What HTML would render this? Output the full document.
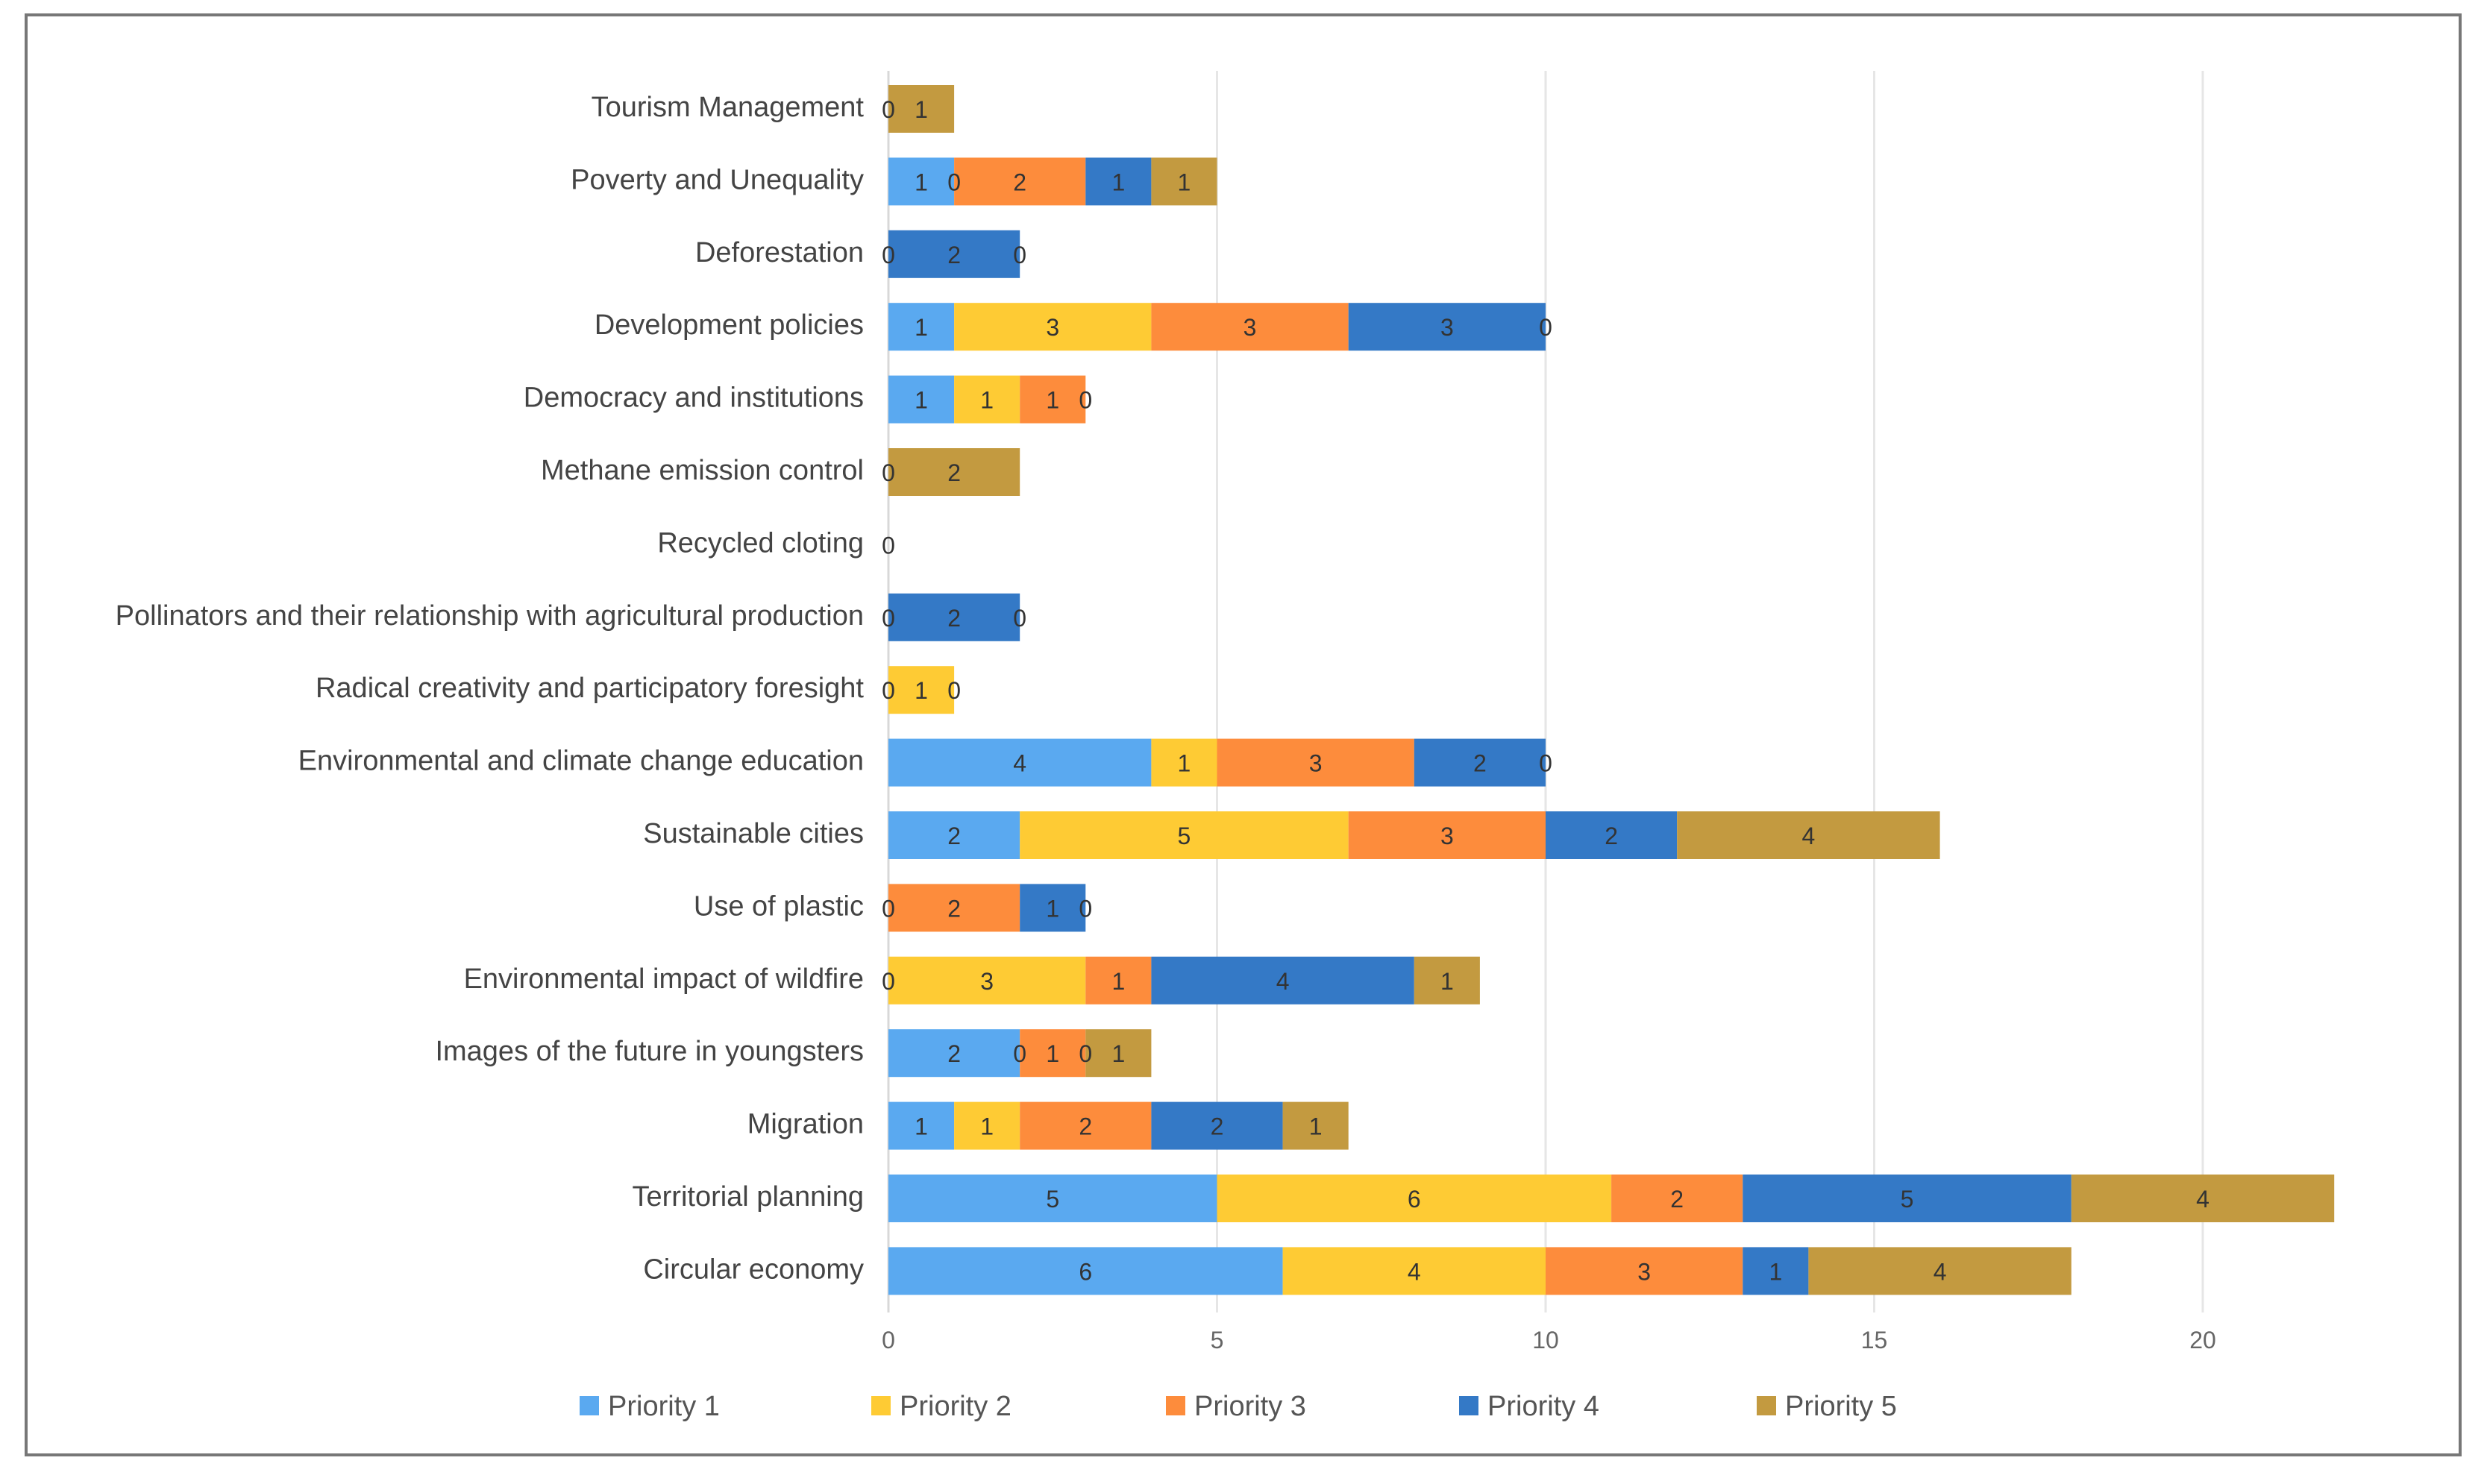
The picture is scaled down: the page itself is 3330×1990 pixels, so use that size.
<!DOCTYPE html>
<html><head><meta charset="utf-8">
<style>
html,body{margin:0;padding:0;background:#fff;}
svg{display:block;}
</style></head>
<body>
<svg id="chart" width="3330" height="1990" viewBox="0 0 3330 1990" xmlns="http://www.w3.org/2000/svg">
<rect x="35" y="20" width="3263" height="1931" fill="#fff" stroke="#777" stroke-width="4"/>
<g id="grid"></g>
<g id="bars"></g>
<g id="labels"></g>
<g id="legend"></g>
</svg>
<script>
const categories = ["Tourism Management","Poverty and Unequality","Deforestation","Development policies","Democracy and institutions","Methane emission control","Recycled cloting","Pollinators and their relationship with agricultural production","Radical creativity and participatory foresight","Environmental and climate change education","Sustainable cities","Use of plastic","Environmental impact of wildfire","Images of the future in youngsters","Migration","Territorial planning","Circular economy"];
const priority1 = [0,1,0,1,1,0,0,0,0,4,2,0,0,2,1,5,6];
const priority2 = [null,0,null,3,1,null,null,null,1,1,5,null,3,0,1,6,4];
const priority3 = [null,2,null,3,1,null,null,null,0,3,3,2,1,1,2,2,3];
const priority4 = [null,1,2,3,0,null,null,2,null,2,2,1,4,0,2,5,1];
const priority5 = [1,1,0,0,null,2,null,0,null,0,4,0,1,1,1,4,4];
const seriesNames = ["Priority 1","Priority 2","Priority 3","Priority 4","Priority 5"];
const xTicks = [0,5,10,15,20];

const series=[priority1,priority2,priority3,priority4,priority5];
const colors=["#5aa9f0","#fecb34","#fd8c3c","#3479c6","#c39a40"];
const NS="http://www.w3.org/2000/svg";
const x0=1191, unit=88.1, y0=143, step=97.4, bh=64;
const xs=v=>x0+v*unit;
const ys=i=>y0+i*step;
function mk(tag,attrs,parent){const e=document.createElementNS(NS,tag);for(const k in attrs)e.setAttribute(k,attrs[k]);parent.appendChild(e);return e;}
const grid=document.getElementById('grid'),bars=document.getElementById('bars'),labels=document.getElementById('labels'),legend=document.getElementById('legend');
xTicks.forEach(t=>{
  const l=mk('line',{x1:xs(t),x2:xs(t),y1:95,y2:1760,stroke:t===0?'#d8d8d8':'#e6e6e6','stroke-width':3},grid);
  
  
  const tx=mk('text',{x:xs(t),y:1808,'text-anchor':'middle','font-family':'Liberation Sans, sans-serif','font-size':32,fill:'#666'},grid);
  tx.textContent=t;
  
  
});
categories.forEach((c,i)=>{
  const cy=ys(i);
  const t=mk('text',{x:1158,y:cy+13,'text-anchor':'end','font-family':'Liberation Sans, sans-serif','font-size':38,fill:'#444'},labels);
  t.textContent=c;
  
  
  let acc=0;
  series.forEach((s,k)=>{
    const v=s[i];
    if(v===null)return;
    if(v>0){
      const r=mk('rect',{x:xs(acc),y:cy-bh/2+3,width:v*unit,height:bh,fill:colors[k]},bars);
      
      
    }
    const lt=mk('text',{x:xs(acc+v/2),y:cy+15,'text-anchor':'middle','font-family':'Liberation Sans, sans-serif','font-size':32,fill:'#333'},labels);
    lt.textContent=v;
    
    
    acc+=v;
  });
});
const legX=[777,1168,1563,1956,2355];
seriesNames.forEach((n,k)=>{
  const g=mk('g',{},legend);
  
  
  mk('rect',{x:legX[k],y:1872,width:26,height:26,fill:colors[k]},g);
  const t=mk('text',{x:legX[k]+38,y:1898,'font-family':'Liberation Sans, sans-serif','font-size':38,fill:'#555'},g);
  t.textContent=n;
});
</script>
</body></html>
